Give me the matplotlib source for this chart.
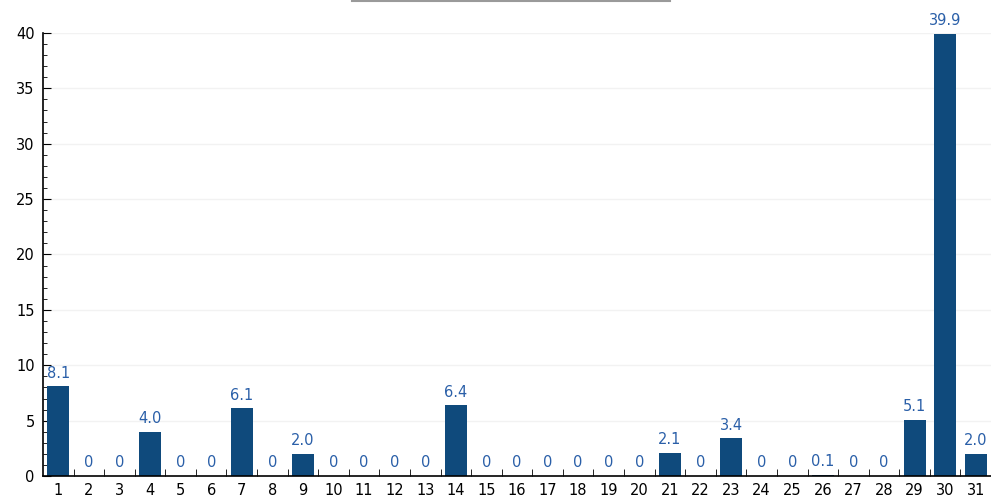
import matplotlib
matplotlib.use("Agg")
import matplotlib.pyplot as plt
from matplotlib.lines import Line2D
from matplotlib.ticker import MultipleLocator

# Daily values (day of month)
days = list(range(1, 32))
values = [8.1, 0, 0, 4.0, 0, 0, 6.1, 0, 2.0, 0,
          0, 0, 0, 6.4, 0, 0, 0, 0, 0, 0,
          2.1, 0, 3.4, 0, 0, 0.1, 0, 0, 5.1, 39.9,
          2.0]

bar_color = '#0f4a7c'
label_color = '#2a5fa8'

fig = plt.figure(figsize=(9.91, 4.99), dpi=100)
ax = fig.add_axes([0.0434, 0.046, 0.9566, 0.888])

bars = ax.bar(days, values, width=0.72, color=bar_color, zorder=2)

for x, v in zip(days, values):
    txt = '0' if v == 0 else f'{v:.1f}'
    ax.annotate(txt, (x, v), xytext=(0, 4), textcoords='offset points',
                ha='center', va='bottom', color=label_color, fontsize=10.5)

ax.set_xlim(0.5, 31.5)
ax.set_ylim(0, 40)

ax.yaxis.set_major_locator(MultipleLocator(5))
ax.yaxis.set_minor_locator(MultipleLocator(1))
ax.set_xticks(days)
ax.set_xticks([d + 0.5 for d in days[:-1]], minor=True)

ax.tick_params(axis='y', which='major', direction='in', length=6, labelsize=10.5, pad=6)
ax.tick_params(axis='y', which='minor', direction='in', length=3)
ax.tick_params(axis='x', which='major', length=0, labelsize=10.5, pad=5)
ax.tick_params(axis='x', which='minor', direction='in', length=5)

for side in ['top', 'right']:
    ax.spines[side].set_visible(False)
ax.spines['left'].set_linewidth(1.2)
ax.spines['bottom'].set_linewidth(1.2)

# faint horizontal guide lines
ax.grid(axis='y', color='#f2f2f2', linewidth=1, zorder=0)

# remnant of a cut-off title underline at the top
fig.add_artist(Line2D([0.355, 0.676], [0.998, 0.998], color='#9a9a9a',
                      linewidth=1.5, transform=fig.transFigure))

fig.savefig('out.png', dpi=100)
